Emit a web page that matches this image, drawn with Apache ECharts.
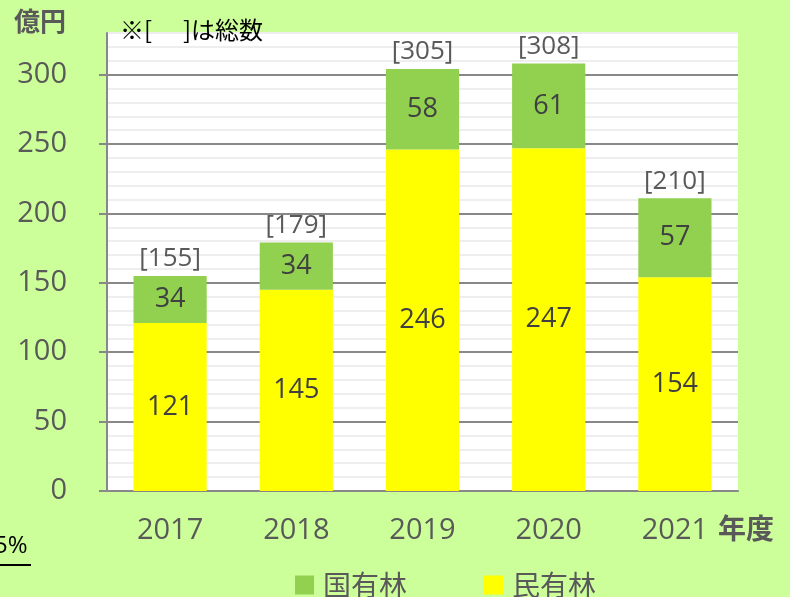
<!DOCTYPE html>
<html>
<head>
<meta charset="utf-8">
<script src="https://cdn.jsdelivr.net/npm/echarts@6/dist/echarts.min.js"></script>
<style>
    html, body { margin: 0; padding: 0; background: #ccff99; }
    #chart { width: 790px; height: 597px; }
</style>
</head>
<body>
<div id="chart"></div>
<script>
const years = ['2017', '2018', '2019', '2020', '2021']
const kokuyurin = [34, 34, 58, 61, 57] // 国有林
const minyurin = [121, 145, 246, 247, 154] // 民有林
const totals = [155, 179, 305, 308, 210]
const majorTicks = [0, 50, 100, 150, 200, 250, 300]

const FONT = '"Open Sans", "Noto Sans CJK JP", sans-serif'
const JFONT = '"Noto Sans CJK JP", sans-serif'
const TXT = '#595959'

const chart = echarts.init(document.getElementById('chart'))

const option = {
    backgroundColor: '#ccff99',
    textStyle: { fontFamily: FONT },
    grid: {
        left: 107,
        right: 52,
        top: 33,
        bottom: 106,
        show: true,
        backgroundColor: '#ffffff',
        borderWidth: 0,
    },
    legend: {
        left: 290,
        top: 566,
        itemWidth: 19,
        itemHeight: 19,
        itemGap: 77,
        icon: 'rect',
        data: ['国有林', '民有林'],
        textStyle: { color: TXT, fontSize: 28, fontFamily: JFONT, padding: [0, 0, 0, 4] },
    },
    xAxis: {
        type: 'category',
        data: years,
        axisLine: { lineStyle: { color: '#888888', width: 2 } },
        axisTick: { show: false },
        axisLabel: { color: TXT, fontSize: 29, margin: 25, fontFamily: FONT },
    },
    yAxis: [
        {
            type: 'value',
            min: 0,
            max: 330,
            interval: 10,
            axisLine: { show: true, lineStyle: { color: '#888888', width: 2 } },
            axisTick: { show: false },
            axisLabel: {
                color: TXT,
                fontSize: 29,
                margin: 40,
                align: 'right',
                customValues: majorTicks,
                fontFamily: FONT,
            },
            splitLine: {
                show: true,
                lineStyle: {
                    color: ['#888888', '#eeeeee', '#eeeeee', '#eeeeee', '#eeeeee'],
                    width: 2,
                },
            },
        },
        {
            // 目盛り線のみ
            type: 'value',
            position: 'left',
            min: 0,
            max: 330,
            interval: 50,
            axisLine: { show: false },
            axisLabel: { show: false },
            splitLine: { show: false },
            axisTick: {
                show: true,
                length: 8,
                customValues: majorTicks,
                lineStyle: { color: '#888888', width: 2 },
            },
        },
    ],
    series: [
        {
            name: '民有林',
            type: 'bar',
            stack: 'all',
            barWidth: '58%',
            data: minyurin,
            itemStyle: { color: '#ffff00' },
            label: {
                show: true,
                position: 'inside',
                color: '#404040',
                fontSize: 27,
                fontFamily: FONT,
            },
        },
        {
            name: '国有林',
            type: 'bar',
            stack: 'all',
            data: kokuyurin,
            itemStyle: { color: '#92d050' },
            label: {
                show: true,
                position: 'inside',
                color: '#404040',
                fontSize: 27,
                fontFamily: FONT,
            },
        },
        {
            // 総数ラベル用
            name: '総数',
            type: 'bar',
            stack: 'all',
            data: totals.map(() => 0),
            itemStyle: { color: 'transparent' },
            label: {
                show: true,
                position: 'top',
                distance: 4,
                color: TXT,
                fontSize: 26,
                fontFamily: FONT,
                formatter: p => '[' + totals[p.dataIndex] + ']',
            },
        },
    ],
    graphic: [
        {
            type: 'text',
            z: 100,
            left: 14,
            top: 8,
            style: { text: '億円', fill: TXT, font: 'bold 26px ' + JFONT },
        },
        {
            type: 'text',
            z: 100,
            left: 120,
            top: 18,
            style: { text: '※[', fill: '#000000', font: '24px ' + JFONT },
        },
        {
            type: 'text',
            z: 100,
            left: 183,
            top: 18,
            style: { text: ']は総数', fill: '#000000', font: '24px ' + JFONT },
        },
        {
            type: 'text',
            z: 100,
            left: 718,
            top: 514,
            style: { text: '年度', fill: TXT, font: 'bold 28px ' + JFONT },
        },
        {
            type: 'text',
            z: 100,
            left: -6,
            top: 534,
            style: { text: '5%', fill: '#000000', font: '24px ' + FONT },
        },
        {
            type: 'rect',
            z: 100,
            shape: { x: 0, y: 564, width: 31, height: 2 },
            style: { fill: '#000000' },
        },
    ],
}

chart.setOption(option)
</script>
</body>
</html>
